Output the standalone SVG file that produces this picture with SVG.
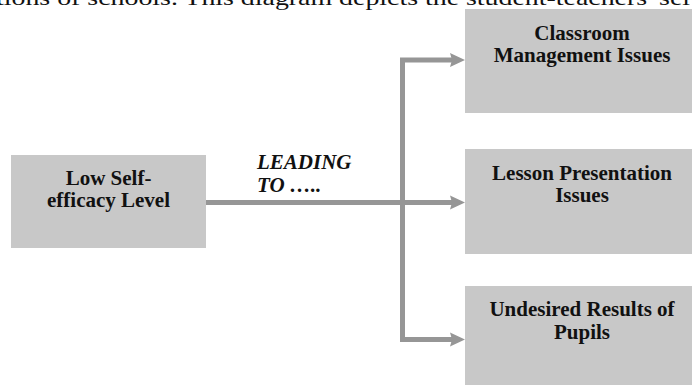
<svg xmlns="http://www.w3.org/2000/svg" width="692" height="385" viewBox="0 0 692 385">
<defs>
<style>
.box{fill:#c8c8c8;}
.lbl{font-family:"Liberation Serif","Times New Roman",serif;font-weight:bold;font-size:21px;fill:#111;text-anchor:middle;}
.lead{font-family:"Liberation Serif","Times New Roman",serif;font-weight:bold;font-style:italic;font-size:21px;fill:#111;}
.body{font-family:"Liberation Serif","Times New Roman",serif;font-size:22px;fill:#111;}
.ln{stroke:#969696;stroke-width:5;fill:none;}
.ah{fill:#969696;}
</style>
</defs>
<text class="body" x="-4" y="5" textLength="694" lengthAdjust="spacingAndGlyphs">tions of schools. This diagram depicts the student-teachers' sel</text>
<g id="connectors">
<line class="ln" x1="206" y1="202.5" x2="452" y2="202.5"/>
<polyline class="ln" points="452,60 402.5,60 402.5,339.5 452,339.5"/>
<polygon class="ah" points="450,53 465,60 450,67 452,60"/>
<polygon class="ah" points="450,195.5 465,202.5 450,209.5 452,202.5"/>
<polygon class="ah" points="450,332.5 465,339.5 450,346.5 452,339.5"/>
</g>
<g id="leading">
<text class="lead" x="257" y="169">LEADING</text>
<text class="lead" x="257" y="192">TO …..</text>
</g>
<g id="node-low">
<rect class="box" x="11" y="155" width="195" height="93"/>
<text class="lbl" x="108.5" y="185">Low Self-</text>
<text class="lbl" x="108.5" y="207">efficacy Level</text>
</g>
<g id="node-classroom">
<rect class="box" x="465" y="9" width="235" height="104"/>
<text class="lbl" x="582" y="40">Classroom</text>
<text class="lbl" x="582" y="62">Management Issues</text>
</g>
<g id="node-lesson">
<rect class="box" x="465" y="149" width="235" height="105"/>
<text class="lbl" x="582" y="180">Lesson Presentation</text>
<text class="lbl" x="582" y="202">Issues</text>
</g>
<g id="node-results">
<rect class="box" x="465" y="286" width="235" height="105"/>
<text class="lbl" x="582" y="316">Undesired Results of</text>
<text class="lbl" x="582" y="339">Pupils</text>
</g>
</svg>
